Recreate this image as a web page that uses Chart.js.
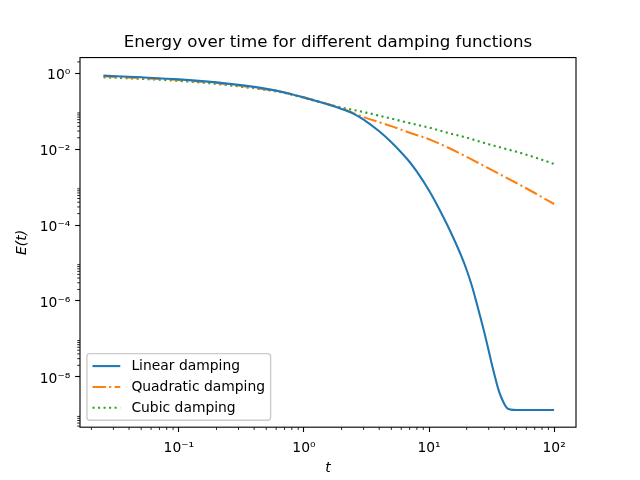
<!DOCTYPE html>
<html>
<head>
<meta charset="utf-8">
<script src="https://cdn.jsdelivr.net/npm/chart.js@4.4.0/dist/chart.umd.min.js"></script>
<style>
  html, body { margin: 0; padding: 0; background: #fff; }
  #wrap { width: 640px; height: 480px; }
</style>
</head>
<body>
<div id="wrap"><canvas id="chart" width="640" height="480"></canvas></div>
<script>
// values
const tLinear = [0.025, 0.05, 0.1, 0.2, 0.3, 0.5, 0.7, 1, 1.5, 2, 2.5, 3, 4, 5, 6, 7, 8, 10, 12, 14, 16, 18, 20,
                 22, 24, 26, 28, 30, 32, 34, 36, 38, 40, 42, 45, 50, 70, 100];
const eLinear = [0.869, 0.783, 0.693, 0.577, 0.495, 0.388, 0.313, 0.229, 0.157, 0.115, 0.0855, 0.0605, 0.0296,
                 0.0152, 0.00817, 0.00459, 0.00255, 8.13e-4, 2.74e-4, 1.0e-4, 3.91e-5, 1.6e-5, 6.52e-6,
                 2.5e-6, 8.9e-7, 3.29e-7, 1.27e-7, 4.86e-8, 1.94e-8, 8.87e-9, 4.44e-9, 2.75e-9, 1.91e-9,
                 1.5e-9, 1.36e-9, 1.33e-9, 1.33e-9, 1.33e-9];

const tQuad = [0.025, 0.05, 0.1, 0.2, 0.3, 0.5, 0.7, 1, 1.5, 2, 3, 5, 7, 10, 14, 20, 30, 50, 70, 100];
const eQuad = [0.832, 0.746, 0.664, 0.553, 0.475, 0.376, 0.310, 0.232, 0.160, 0.119, 0.0702, 0.0405, 0.0272,
               0.0183, 0.0112, 0.00628, 0.00311, 0.00128, 6.98e-4, 3.58e-4];

const tCubic = [0.025, 0.05, 0.1, 0.2, 0.3, 0.5, 0.7, 1, 1.5, 2, 3, 5, 7, 10, 14, 20, 30, 50, 70, 100];
const eCubic = [0.783, 0.715, 0.632, 0.526, 0.452, 0.365, 0.304, 0.225, 0.158, 0.125, 0.0953, 0.064, 0.0486,
                0.0370, 0.0272, 0.0201, 0.0135, 0.00853, 0.00610, 0.00406];

const seriesLabels = ['Linear damping', 'Quadratic damping', 'Cubic damping'];
const xMajor = [0.1, 1, 10, 100];
const yMajor = [1e-8, 1e-6, 1e-4, 1e-2, 1];

const PT = 100 / 72;   // matplotlib points -> px
const FONT = "'DejaVu Sans', sans-serif";

Chart.defaults.font.family = FONT;
Chart.defaults.color = '#000';

const SUP = { '-': '\u207B', '0': '\u2070', '1': '\u00B9', '2': '\u00B2', '3': '\u00B3',
  '4': '\u2074', '5': '\u2075', '6': '\u2076', '7': '\u2077', '8': '\u2078', '9': '\u2079' };

function powLabel(v) {
    const e = String(Math.round(Math.log10(v)));
    return '10' + e.split('').map(c => SUP[c]).join('');
}

function toPoints(xs, ys) {
    return xs.map((x, i) => ({ x: x, y: ys[i] }));
}

// minor ticks + the 4 spines
const axesFrame = {
    id: 'axesFrame',
    afterDatasetsDraw(chart) {
        const { ctx, chartArea: a, scales: { x, y } } = chart;
        ctx.save();
        ctx.strokeStyle = '#000';
        ctx.lineWidth = 0.6 * PT;
        ctx.beginPath();
        for (let d = -3; d <= 2; d++) {
            for (let k = 2; k <= 9; k++) {
                const v = k * Math.pow(10, d);
                if (v < x.min || v > x.max) continue;
                const px = x.getPixelForValue(v);
                ctx.moveTo(px, a.bottom);
                ctx.lineTo(px, a.bottom + 2 * PT);
            }
        }
        // y major ticks are every 2 decades, minor ones sit above the even decades
        for (let d = -10; d <= 0; d += 2) {
            for (let k = 2; k <= 9; k++) {
                const v = k * Math.pow(10, d);
                if (v < y.min || v > y.max) continue;
                const py = y.getPixelForValue(v);
                ctx.moveTo(a.left, py);
                ctx.lineTo(a.left - 2 * PT, py);
            }
        }
        ctx.stroke();
        ctx.lineWidth = 0.8 * PT;
        ctx.strokeRect(a.left, a.top, a.right - a.left, a.bottom - a.top);
        ctx.restore();
    }
};

// matplotlib style legend, lower left inside the axes
const legendBox = {
    id: 'legendBox',
    afterDraw(chart) {
        const { ctx, chartArea: a } = chart;
        const fs = 10 * PT;
        const pad = 0.4 * fs, hl = 2 * fs, htp = 0.8 * fs, ls = 0.5 * fs, bap = 0.5 * fs;
        const sets = chart.data.datasets;
        ctx.save();
        ctx.font = fs + 'px ' + FONT;
        const textW = Math.max(...sets.map(d => ctx.measureText(d.label).width));
        const w = 2 * pad + hl + htp + textW;
        const h = 2 * pad + sets.length * fs + (sets.length - 1) * ls;
        const left = a.left + bap;
        const top = a.bottom - bap - h;

        ctx.beginPath();
        ctx.roundRect(left, top, w, h, 0.2 * fs);
        ctx.fillStyle = 'rgba(255,255,255,0.8)';
        ctx.fill();
        ctx.lineWidth = 1 * PT;
        ctx.strokeStyle = '#cccccc';
        ctx.stroke();

        sets.forEach((d, i) => {
            const cy = top + pad + fs / 2 + i * (fs + ls);
            const x0 = left + pad;
            ctx.beginPath();
            ctx.setLineDash(d.borderDash || []);
            ctx.lineWidth = d.borderWidth;
            ctx.strokeStyle = d.borderColor;
            ctx.lineCap = 'butt';
            ctx.moveTo(x0, cy);
            ctx.lineTo(x0 + hl, cy);
            ctx.stroke();
            ctx.setLineDash([]);
            ctx.fillStyle = '#000';
            ctx.textBaseline = 'middle';
            ctx.textAlign = 'left';
            ctx.fillText(d.label, x0 + hl + htp, cy + 0.5);
        });
        ctx.restore();
    }
};

const LW = 1.5 * PT;

new Chart(document.getElementById('chart'), {
    type: 'line',
    data: {
        datasets: [
            {
                label: seriesLabels[0],
                data: toPoints(tLinear, eLinear),
                borderColor: '#1f77b4',
                borderWidth: LW,
                cubicInterpolationMode: 'monotone',
                pointRadius: 0
            },
            {
                label: seriesLabels[1],
                data: toPoints(tQuad, eQuad),
                borderColor: '#ff7f0e',
                borderWidth: LW,
                borderDash: [6.4 * LW, 1.6 * LW, 1 * LW, 1.6 * LW],
                cubicInterpolationMode: 'monotone',
                pointRadius: 0
            },
            {
                label: seriesLabels[2],
                data: toPoints(tCubic, eCubic),
                borderColor: '#2ca02c',
                borderWidth: LW,
                borderDash: [1 * LW, 1.65 * LW],
                cubicInterpolationMode: 'monotone',
                pointRadius: 0
            }
        ]
    },
    options: {
        responsive: false,
        animation: false,
        devicePixelRatio: 1,
        layout: { padding: { left: 0, right: 64, top: 0, bottom: 0 } },
        plugins: {
            legend: { display: false },
            tooltip: { enabled: false },
            title: {
                display: true,
                fullSize: false,
                text: 'Energy over time for different damping functions',
                color: '#000',
                font: { family: FONT, size: 12 * PT, weight: 'normal', lineHeight: 1.2 },
                padding: { top: 33, bottom: 4.56 }
            }
        },
        scales: {
            x: {
                type: 'logarithmic',
                min: Math.pow(10, -1.79),
                max: Math.pow(10, 2.175),
                afterBuildTicks: (scale) => { scale.ticks = xMajor.map(v => ({ value: v })); },
                afterFit: (scale) => { scale.height = 52.8; },
                grid: { drawOnChartArea: false, drawTicks: true, tickLength: 3.5 * PT, tickWidth: 0.8 * PT, tickColor: '#000' },
                border: { display: false },
                ticks: {
                    autoSkip: false, maxRotation: 0, padding: 3.5 * PT + 3, color: '#000',
                    font: { size: 10 * PT },
                    callback: (v) => powLabel(v)
                },
                title: {
                    display: true, text: 't', color: '#000',
                    font: { size: 10 * PT, style: 'italic' },
                    padding: { top: 0, bottom: 3.7 }
                }
            },
            y: {
                type: 'logarithmic',
                min: Math.pow(10, -9.33),
                max: Math.pow(10, 0.415),
                afterBuildTicks: (scale) => { scale.ticks = yMajor.map(v => ({ value: v })); },
                afterFit: (scale) => { scale.width = 80; },
                grid: { drawOnChartArea: false, drawTicks: true, tickLength: 3.5 * PT, tickWidth: 0.8 * PT, tickColor: '#000' },
                border: { display: false },
                ticks: {
                    autoSkip: false, padding: 3.5 * PT, labelOffset: 2.5, color: '#000',
                    font: { size: 10 * PT },
                    callback: (v) => powLabel(v)
                },
                title: {
                    display: true, text: 'E(t)', color: '#000',
                    font: { size: 10 * PT, style: 'italic' },
                    padding: { top: 14.4, bottom: 0 }
                }
            }
        }
    },
    plugins: [axesFrame, legendBox]
});
</script>
</body>
</html>
